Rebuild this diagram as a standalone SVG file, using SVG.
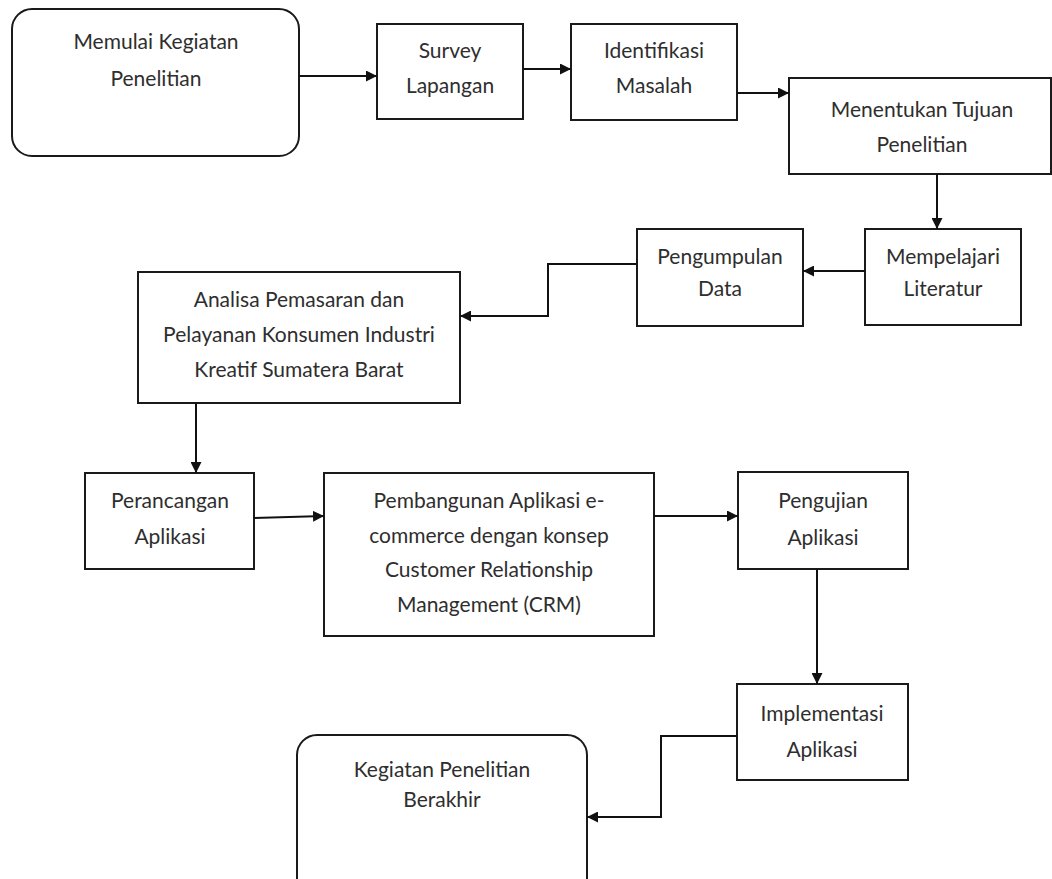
<svg xmlns="http://www.w3.org/2000/svg" width="1052" height="879" viewBox="0 0 1052 879">
<style>
.box{fill:#fff;stroke:#1a1a1a;stroke-width:2}
.t{font-family:Lato,"Open Sans","Liberation Sans",sans-serif;font-size:21px;fill:#2e2e2e;text-anchor:middle}
.c{fill:none;stroke:#111;stroke-width:2}
</style>
<defs>
<marker id="ah" viewBox="0 0 10 10" refX="10" refY="5" markerWidth="11" markerHeight="11" markerUnits="userSpaceOnUse" orient="auto">
<path d="M0,0 L10,5 L0,10 z" fill="#111"/>
</marker>
</defs>
<rect width="1052" height="879" fill="#fff"/>
<g id="start">
<rect class="box" x="12" y="9" width="287" height="147" rx="20"/>
<text class="t" x="156" y="49">Memulai Kegiatan</text>
<text class="t" x="156" y="86">Penelitian</text>
</g>
<g id="survey">
<rect class="box" x="377" y="24" width="146" height="95"/>
<text class="t" x="450" y="58">Survey</text>
<text class="t" x="450" y="93">Lapangan</text>
</g>
<g id="identifikasi">
<rect class="box" x="571" y="24" width="166" height="96"/>
<text class="t" x="654" y="58">Identifikasi</text>
<text class="t" x="654" y="93">Masalah</text>
</g>
<g id="menentukan">
<rect class="box" x="789" y="78" width="262" height="96"/>
<text class="t" x="922" y="117">Menentukan Tujuan</text>
<text class="t" x="922" y="152">Penelitian</text>
</g>
<g id="mempelajari">
<rect class="box" x="865" y="229" width="156" height="96"/>
<text class="t" x="943" y="264">Mempelajari</text>
<text class="t" x="943" y="296">Literatur</text>
</g>
<g id="pengumpulan">
<rect class="box" x="637" y="229" width="166" height="97"/>
<text class="t" x="720" y="264">Pengumpulan</text>
<text class="t" x="720" y="296">Data</text>
</g>
<g id="analisa">
<rect class="box" x="138" y="272" width="322" height="131"/>
<text class="t" x="299" y="307">Analisa Pemasaran dan</text>
<text class="t" x="299" y="342">Pelayanan Konsumen Industri</text>
<text class="t" x="299" y="377">Kreatif Sumatera Barat</text>
</g>
<g id="perancangan">
<rect class="box" x="85" y="473" width="169" height="96"/>
<text class="t" x="170" y="508">Perancangan</text>
<text class="t" x="170" y="544">Aplikasi</text>
</g>
<g id="pembangunan">
<rect class="box" x="324" y="473" width="330" height="163"/>
<text class="t" x="489" y="508">Pembangunan Aplikasi e-</text>
<text class="t" x="489" y="543">commerce dengan konsep</text>
<text class="t" x="489" y="577">Customer Relationship</text>
<text class="t" x="489" y="612">Management (CRM)</text>
</g>
<g id="pengujian">
<rect class="box" x="738" y="472" width="170" height="97"/>
<text class="t" x="823" y="508">Pengujian</text>
<text class="t" x="823" y="545">Aplikasi</text>
</g>
<g id="implementasi">
<rect class="box" x="737" y="684" width="171" height="96"/>
<text class="t" x="822" y="721">Implementasi</text>
<text class="t" x="822" y="757">Aplikasi</text>
</g>
<g id="end">
<rect class="box" x="297" y="735" width="290" height="170" rx="20"/>
<text class="t" x="442" y="777">Kegiatan Penelitian</text>
<text class="t" x="442" y="807">Berakhir</text>
</g>
<g id="connectors">
<path class="c" d="M299,76 H377" marker-end="url(#ah)"/>
<path class="c" d="M523,69 H571" marker-end="url(#ah)"/>
<path class="c" d="M737,93 H789" marker-end="url(#ah)"/>
<path class="c" d="M937,174 V229" marker-end="url(#ah)"/>
<path class="c" d="M865,271 H803" marker-end="url(#ah)"/>
<path class="c" d="M637,264 H548 V316 H460" marker-end="url(#ah)"/>
<path class="c" d="M196,403 V473" marker-end="url(#ah)"/>
<path class="c" d="M254,518 L324,516" marker-end="url(#ah)"/>
<path class="c" d="M654,516 H738" marker-end="url(#ah)"/>
<path class="c" d="M817,569 V684" marker-end="url(#ah)"/>
<path class="c" d="M737,736 H661 V817 H587" marker-end="url(#ah)"/>
</g>
</svg>
